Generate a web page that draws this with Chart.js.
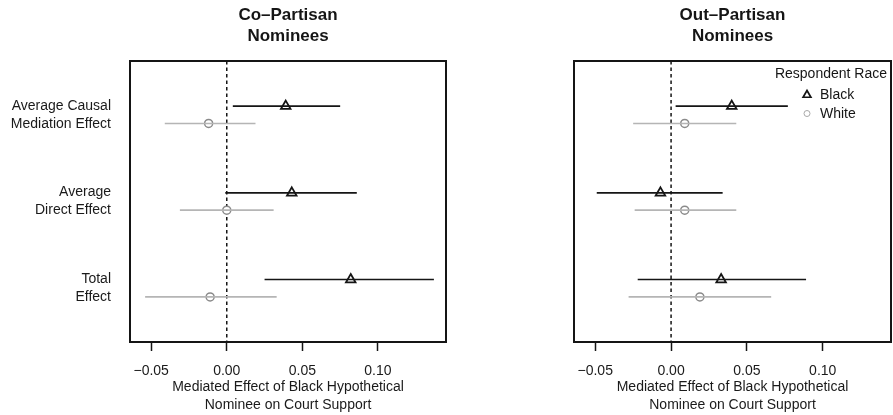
<!DOCTYPE html>
<html>
<head>
<meta charset="utf-8">
<script src="https://cdn.jsdelivr.net/npm/chart.js@4/dist/chart.umd.min.js"></script>
<style>
  body { margin: 0; background: #fff; }
  #wrap { position: relative; width: 893px; height: 415px; }
  canvas { position: absolute; top: 0; }
</style>
</head>
<body>
<div id="wrap">
  <canvas id="coPartisan" width="450" height="415" style="left:0"></canvas>
  <canvas id="outPartisan" width="443" height="415" style="left:450px"></canvas>
</div>
<script>
// categorias (de arriba hacia abajo)
const efectos = ["ACME", "ADE", "Total"];
const etiquetasEfecto = [
  ["Average Causal", "Mediation Effect"],
  ["Average", "Direct Effect"],
  ["Total", "Effect"]
];
const ticksX = [-0.05, 0, 0.05, 0.10];
const tituloCo = ["Co\u2013Partisan", "Nominees"];
const tituloOut = ["Out\u2013Partisan", "Nominees"];
const tituloEjeX = ["Mediated Effect of Black Hypothetical", "Nominee on Court Support"];
const razas = ["Black", "White"];
const tituloLeyenda = "Respondent Race";

// Co-Partisan
const coBlackEst = [0.039, 0.043, 0.082];
const coBlackLow = [0.004, -0.001, 0.025];
const coBlackHigh = [0.075, 0.086, 0.137];
const coWhiteEst = [-0.012, 0.000, -0.011];
const coWhiteLow = [-0.041, -0.031, -0.054];
const coWhiteHigh = [0.019, 0.031, 0.033];

// Out-Partisan
const outBlackEst = [0.040, -0.007, 0.033];
const outBlackLow = [0.003, -0.049, -0.022];
const outBlackHigh = [0.077, 0.034, 0.089];
const outWhiteEst = [0.009, 0.009, 0.019];
const outWhiteLow = [-0.025, -0.024, -0.028];
const outWhiteHigh = [0.043, 0.043, 0.066];

Chart.defaults.font.family = '"Liberation Sans", Arial, Helvetica, sans-serif';
Chart.defaults.color = "#1a1a1a";

const NEGRO = "#151515";
const GRIS_LINEA = "#b5b5b5";
const GRIS_PUNTO = "#8a8a8a";
const DESPLAZA = 0.1;

const formatoTick = (v) => {
  const s = Number(v).toFixed(2);
  return s.replace("-", "\u2212");
};

const armarDatasets = (bEst, bLow, bHigh, wEst, wLow, wHigh) => {
  const ds = [];
  efectos.forEach((e, i) => {
    const yB = i + 1 - DESPLAZA;
    const yW = i + 1 + DESPLAZA;
    ds.push({
      data: [{ x: bLow[i], y: yB }, { x: bHigh[i], y: yB }],
      showLine: true, borderColor: NEGRO, borderWidth: 1.6, pointRadius: 0
    });
    ds.push({
      data: [{ x: wLow[i], y: yW }, { x: wHigh[i], y: yW }],
      showLine: true, borderColor: GRIS_LINEA, borderWidth: 1.6, pointRadius: 0
    });
  });
  ds.push({
    label: razas[0],
    data: bEst.map((v, i) => ({ x: v, y: i + 1 - DESPLAZA })),
    pointStyle: "triangle", pointRadius: 5.5,
    borderColor: NEGRO, backgroundColor: "#fff", borderWidth: 1.8
  });
  ds.push({
    label: razas[1],
    data: wEst.map((v, i) => ({ x: v, y: i + 1 + DESPLAZA })),
    pointStyle: "circle", pointRadius: 4,
    borderColor: GRIS_PUNTO, backgroundColor: "#fff", borderWidth: 1.5
  });
  return ds;
};

// linea de cero, marco, titulo y leyenda
const marco = {
  id: "marco",
  beforeDatasetsDraw(chart) {
    const { ctx, chartArea: a, scales: { x } } = chart;
    const px = x.getPixelForValue(0);
    ctx.save();
    ctx.setLineDash([3.5, 3]);
    ctx.lineWidth = 1.5;
    ctx.strokeStyle = NEGRO;
    ctx.beginPath();
    ctx.moveTo(px, a.top);
    ctx.lineTo(px, a.bottom);
    ctx.stroke();
    ctx.restore();
  },
  afterDraw(chart, args, opts) {
    const { ctx, chartArea: a } = chart;
    ctx.save();
    ctx.lineWidth = 2;
    ctx.strokeStyle = NEGRO;
    ctx.strokeRect(a.left, a.top, a.right - a.left, a.bottom - a.top);

    // titulo
    ctx.fillStyle = NEGRO;
    ctx.font = 'bold 17px "Liberation Sans", Arial, sans-serif';
    ctx.textAlign = "center";
    ctx.textBaseline = "middle";
    const cx = (a.left + a.right) / 2;
    opts.titulo.forEach((t, i) => ctx.fillText(t, cx, 15 + i * 21.5));

    if (opts.leyenda) {
      ctx.font = '14px "Liberation Sans", Arial, sans-serif';
      ctx.textAlign = "right";
      ctx.fillText(tituloLeyenda, a.right - 4, 74);
      ctx.textAlign = "left";
      const mx = a.right - 84;
      const tx = a.right - 71;
      // triangulo
      const r = 4.5;
      ctx.beginPath();
      ctx.moveTo(mx, 95 - r);
      ctx.lineTo(mx + r * 0.866, 95 + r / 2);
      ctx.lineTo(mx - r * 0.866, 95 + r / 2);
      ctx.closePath();
      ctx.lineWidth = 1.7;
      ctx.strokeStyle = NEGRO;
      ctx.stroke();
      ctx.fillText(razas[0], tx, 95.5);
      // circulo
      ctx.beginPath();
      ctx.arc(mx, 113.5, 3, 0, Math.PI * 2);
      ctx.lineWidth = 1;
      ctx.strokeStyle = "#a8a8a8";
      ctx.stroke();
      ctx.fillText(razas[1], tx, 114);
    }
    ctx.restore();
  }
};

const crearGrafico = (id, datasets, titulo, conEtiquetas, anchoY, padDer, leyenda) => {
  const ctx = document.getElementById(id).getContext("2d");
  return new Chart(ctx, {
    type: "scatter",
    data: { datasets: datasets },
    options: {
      responsive: false,
      animation: false,
      devicePixelRatio: 1,
      layout: { autoPadding: false, padding: { left: 0, top: 61, right: padDer, bottom: 0 } },
      plugins: {
        legend: { display: false },
        tooltip: { enabled: false },
        marco: { titulo: titulo, leyenda: leyenda }
      },
      scales: {
        x: {
          type: "linear",
          min: -0.064,
          max: 0.145,
          afterBuildTicks: (s) => { s.ticks = ticksX.map((v) => ({ value: v })); },
          afterFit: (s) => { s.height = 73; },
          grid: { drawOnChartArea: false, drawTicks: true, tickLength: 9, tickColor: NEGRO, tickWidth: 1.5 },
          border: { display: false },
          ticks: {
            callback: (v) => formatoTick(v),
            font: { size: 14 },
            color: "#1a1a1a",
            padding: 11.5,
            maxRotation: 0,
            autoSkip: false
          },
          title: {
            display: true,
            text: tituloEjeX,
            font: { size: 14, lineHeight: "18px" },
            color: "#1a1a1a",
            padding: { top: 0, bottom: 1 }
          }
        },
        y: {
          type: "linear",
          reverse: true,
          min: 0.38,
          max: 3.62,
          afterBuildTicks: (s) => { s.ticks = [1, 2, 3].map((v) => ({ value: v })); },
          afterFit: (s) => { s.width = anchoY; },
          grid: { display: false, drawTicks: false },
          border: { display: false },
          ticks: {
            display: conEtiquetas,
            callback: (v) => etiquetasEfecto[Math.round(v) - 1],
            font: { size: 14, lineHeight: "18px" },
            color: "#1a1a1a",
            padding: 19,
            autoSkip: false
          }
        }
      }
    },
    plugins: [marco]
  });
};

crearGrafico("coPartisan",
  armarDatasets(coBlackEst, coBlackLow, coBlackHigh, coWhiteEst, coWhiteLow, coWhiteHigh),
  tituloCo, true, 130, 4, false);

crearGrafico("outPartisan",
  armarDatasets(outBlackEst, outBlackLow, outBlackHigh, outWhiteEst, outWhiteLow, outWhiteHigh),
  tituloOut, false, 124, 2, true);
</script>
</body>
</html>
